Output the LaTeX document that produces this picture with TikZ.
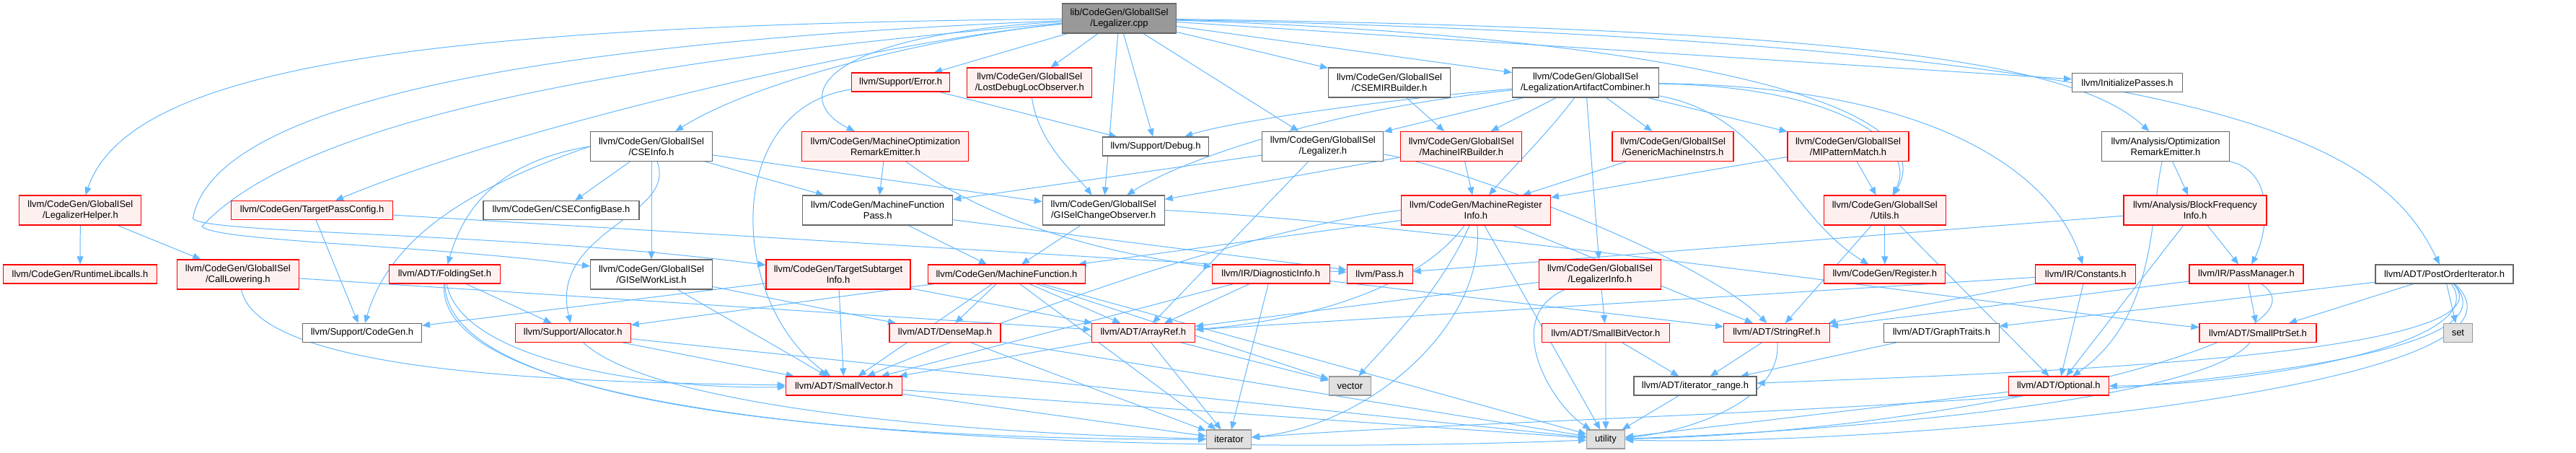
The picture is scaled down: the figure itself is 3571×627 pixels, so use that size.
\documentclass[tikz,border=0pt]{standalone}
\usepackage{fontspec}
\setmainfont{Liberation Sans}
\usetikzlibrary{arrows.meta}
\definecolor{edgec}{HTML}{63B8FF}
\definecolor{redfill}{HTML}{FFF0F0}
\definecolor{gfour}{HTML}{666666}
\definecolor{gsix}{HTML}{999999}
\definecolor{sysfill}{HTML}{E0E0E0}
\pgfdeclarelayer{bg}
\pgfsetlayers{bg,main}
\begin{document}
\begin{tikzpicture}[x=1pt,y=-1pt,
 font=\fontsize{13}{15}\selectfont,
 base/.style={draw, line width=1.1pt, inner sep=0pt, align=center, minimum height=26pt},
 rn/.style={base, draw=red, fill=redfill},
 gn/.style={base, draw=gfour, fill=white},
 sn/.style={base, draw=gsix, fill=sysfill},
 tn/.style={base, draw=gfour, fill=gsix},
 two/.style={minimum height=41pt},
 e/.style={draw=edgec, line width=1pt, -{Triangle[length=11pt,width=9pt]}},
]
\useasboundingbox (0,0) rectangle (3571,627);
% row 0
\node[tn,two,minimum width=158pt] (root) at (1551.5,25.5) {lib/CodeGen/GlobalISel\\/Legalizer.cpp};
% row 1
\node[rn,minimum width=136pt] (error) at (1248.6,114) {llvm/Support/Error.h};
\node[rn,two,minimum width=173pt] (ldlo) at (1427.3,114.5) {llvm/CodeGen/GlobalISel\\/LostDebugLocObserver.h};
\node[gn,two,minimum width=169pt] (csemirb) at (1926,114.5) {llvm/CodeGen/GlobalISel\\/CSEMIRBuilder.h};
\node[gn,two,minimum width=203pt] (lac) at (2198,114.5) {llvm/CodeGen/GlobalISel\\/LegalizationArtifactCombiner.h};
\node[gn,minimum width=153pt] (initp) at (2949,114.5) {llvm/InitializePasses.h};
% row 2
\node[gn,two,minimum width=169pt] (cseinfo) at (903,203) {llvm/CodeGen/GlobalISel\\/CSEInfo.h};
\node[rn,two,minimum width=231pt] (more) at (1227.4,203) {llvm/CodeGen/MachineOptimization\\RemarkEmitter.h};
\node[gn,minimum width=147pt] (debug) at (1602,203) {llvm/Support/Debug.h};
\node[gn,two,minimum width=168pt] (legalizer) at (1833.9,203) {llvm/CodeGen/GlobalISel\\/Legalizer.h};
\node[rn,two,minimum width=168pt] (mirb) at (2025.8,203) {llvm/CodeGen/GlobalISel\\/MachineIRBuilder.h};
\node[rn,two,minimum width=168pt] (gmi) at (2319,203) {llvm/CodeGen/GlobalISel\\/GenericMachineInstrs.h};
\node[rn,two,minimum width=168pt] (mipm) at (2562,203) {llvm/CodeGen/GlobalISel\\/MIPatternMatch.h};
\node[gn,two,minimum width=177pt] (ore) at (3002,203) {llvm/Analysis/Optimization\\RemarkEmitter.h};
% row 3
\node[rn,two,minimum width=169pt] (lhelper) at (111.4,291.5) {llvm/CodeGen/GlobalISel\\/LegalizerHelper.h};
\node[rn,minimum width=224pt] (tpc) at (432.6,291.5) {llvm/CodeGen/TargetPassConfig.h};
\node[gn,minimum width=216pt] (csecfg) at (778,291.5) {llvm/CodeGen/CSEConfigBase.h};
\node[gn,two,minimum width=208pt] (mfp) at (1216.7,291.5) {llvm/CodeGen/MachineFunction\\Pass.h};
\node[gn,two,minimum width=169pt] (gco) at (1529.7,291.5) {llvm/CodeGen/GlobalISel\\/GISelChangeObserver.h};
\node[rn,two,minimum width=207pt] (mri) at (2045.9,291.5) {llvm/CodeGen/MachineRegister\\Info.h};
\node[rn,two,minimum width=169pt] (utils) at (2612.8,291.5) {llvm/CodeGen/GlobalISel\\/Utils.h};
\node[rn,two,minimum width=198pt] (bfi) at (3043,291.5) {llvm/Analysis/BlockFrequency\\Info.h};
% row 4
\node[rn,minimum width=213pt] (rtlib) at (111,380) {llvm/CodeGen/RuntimeLibcalls.h};
\node[rn,two,minimum width=169pt] (calllow) at (329.9,380.5) {llvm/CodeGen/GlobalISel\\/CallLowering.h};
\node[rn,minimum width=154pt] (folding) at (616.5,380) {llvm/ADT/FoldingSet.h};
\node[gn,two,minimum width=169pt] (worklist) at (903,380.5) {llvm/CodeGen/GlobalISel\\/GISelWorkList.h};
\node[rn,two,minimum width=200pt] (tsi) at (1162,380.5) {llvm/CodeGen/TargetSubtarget\\Info.h};
\node[rn,minimum width=218pt] (mf) at (1395.4,380) {llvm/CodeGen/MachineFunction.h};
\node[rn,minimum width=163pt] (diag) at (1761.7,380) {llvm/IR/DiagnosticInfo.h};
\node[rn,minimum width=91pt] (pass) at (1912.7,380) {llvm/Pass.h};
\node[rn,two,minimum width=169pt] (linfo) at (2218,380.5) {llvm/CodeGen/GlobalISel\\/LegalizerInfo.h};
\node[rn,minimum width=168pt] (register) at (2612.8,380) {llvm/CodeGen/Register.h};
\node[rn,minimum width=139pt] (constants) at (2891.3,380) {llvm/IR/Constants.h};
\node[rn,minimum width=158pt] (passmgr) at (3114,380) {llvm/IR/PassManager.h};
\node[gn,minimum width=191pt] (poi) at (3388.5,380) {llvm/ADT/PostOrderIterator.h};
% row 5
\node[gn,minimum width=165pt] (cgen) at (502,461.5) {llvm/Support/CodeGen.h};
\node[rn,minimum width=160pt] (alloc) at (794.2,461.5) {llvm/Support/Allocator.h};
\node[rn,minimum width=154pt] (densemap) at (1310,461.5) {llvm/ADT/DenseMap.h};
\node[rn,minimum width=143.5pt] (arrayref) at (1584.8,461.5) {llvm/ADT/ArrayRef.h};
\node[rn,minimum width=177.6pt] (sbv) at (2225.9,461.5) {llvm/ADT/SmallBitVector.h};
\node[rn,minimum width=147pt] (stringref) at (2463,461.5) {llvm/ADT/StringRef.h};
\node[gn,minimum width=160pt] (graphtraits) at (2691.4,461.5) {llvm/ADT/GraphTraits.h};
\node[rn,minimum width=162pt] (sptrset) at (3130,461.5) {llvm/ADT/SmallPtrSet.h};
\node[sn,minimum width=40pt] (set) at (3407.4,461.5) {set};
% row 6
\node[rn,minimum width=161.5pt] (smallvec) at (1170,535) {llvm/ADT/SmallVector.h};
\node[sn,minimum width=58pt] (vector) at (1871.4,535) {vector};
\node[gn,minimum width=170pt] (itrange) at (2350,535) {llvm/ADT/iterator\_range.h};
\node[rn,minimum width=139pt] (optional) at (2853.8,535) {llvm/ADT/Optional.h};
% row 7
\node[sn,minimum width=62pt] (iterator) at (1703.6,609) {iterator};
\node[sn,minimum width=53pt] (utility) at (2226,609) {utility};
\coordinate (la) at (268,300);
\coordinate (lb) at (280,314);
\begin{pgfonlayer}{bg}
\fill[white] (0,0) rectangle (3571,627);
% root
\draw[e] (root) -- (error);
\draw[e] (root) -- (ldlo);
\draw[e] (root) -- (csemirb);
\draw[e] (root) -- (lac);
\draw[e] (root) -- (initp);
\draw[e] (root) .. controls (600,35) and (180,90) .. (lhelper);
\draw[e] (root) .. controls (1200,60) and (700,180) .. (tpc);
\draw[e] (root) .. controls (1300,50) and (1050,110) .. (cseinfo);
\draw[e] (root) .. controls (1120,50) and (1100,140) .. (more);
\draw[e] (root) -- (debug);
\draw[e] (root) -- (legalizer);
\draw[e] (root) -- (gco);
\draw[e] (root) .. controls (2600,40) and (2880,90) .. (ore);
\draw[e] (root) .. controls (2300,50) and (2700,140) .. (utils);
\draw[e] (root) .. controls (3100,60) and (3300,200) .. (poi);
\draw[e] (root) .. controls (900,80) and (420,160) .. (lb) .. controls (300,335) and (600,340) .. (worklist);
\draw[e] (root) .. controls (700,60) and (300,150) .. (la) .. controls (245,325) and (700,320) .. (tsi);
% error
\draw[e] (error) -- (debug);
\draw[e] (error) .. controls (1000,150) and (1010,420) .. (smallvec);
% ldlo, csemirb
\draw[e] (ldlo) .. controls (1440,200) and (1490,240) .. (gco);
\draw[e] (csemirb) -- (mirb);
% lac
\draw[e] (lac) -- (legalizer);
\draw[e] (lac) -- (mirb);
\draw[e] (lac) .. controls (2150,180) and (2090,240) .. (mri);
\draw[e] (lac) -- (linfo);
\draw[e] (lac) -- (gmi);
\draw[e] (lac) -- (mipm);
\draw[e] (lac) .. controls (2550,120) and (2660,200) .. (utils);
\draw[e] (lac) .. controls (2450,160) and (2480,300) .. (register);
\draw[e] (lac) .. controls (2700,120) and (2850,250) .. (constants);
\draw[e] (lac) .. controls (1900,140) and (1700,170) .. (debug);
\draw[e] (lac) .. controls (1850,150) and (1640,220) .. (gco);
% lhelper, tpc
\draw[e] (lhelper) -- (rtlib);
\draw[e] (lhelper) -- (calllow);
\draw[e] (tpc) -- (cgen);
\draw[e] (tpc) -- (pass);
% cseinfo
\draw[e] (cseinfo) -- (csecfg);
\draw[e] (cseinfo) -- (mfp);
\draw[e] (cseinfo) -- (gco);
\draw[e] (cseinfo.west) .. controls (680,225) and (640,300) .. (folding);
\draw[e] (cseinfo) .. controls (940,300) and (760,320) .. (alloc);
\draw[e] (cseinfo.west) .. controls (650,260) and (540,330) .. (cgen);
\draw[e] (cseinfo) -- (worklist);
% more, legalizer
\draw[e] (more) -- (mfp);
\draw[e] (more) .. controls (1400,330) and (1600,360) .. (diag);
\draw[e] (legalizer) -- (mfp);
\draw[e] (legalizer) -- (arrayref);
\draw[e] (legalizer) .. controls (2000,225) and (2350,350) .. (stringref);
% mirb, gmi, mipm
\draw[e] (mirb) -- (mri);
\draw[e] (mirb) -- (gco);
\draw[e] (gmi) -- (mri);
\draw[e] (mipm) -- (mri);
\draw[e] (mipm) -- (utils);
% ore
\draw[e] (ore) -- (bfi);
\draw[e] (ore) .. controls (3160,240) and (3140,330) .. (passmgr);
\draw[e] (ore) .. controls (2980,300) and (2990,440) .. (optional);
% mfp, gco
\draw[e] (mfp) -- (mf);
\draw[e] (mfp) -- (pass);
\draw[e] (gco) -- (mf);
\draw[e] (gco.east) .. controls (2000,310) and (2900,440) .. (sptrset);
% mri
\draw[e] (mri) -- (mf);
\draw[e] (mri) .. controls (1950,420) and (1750,450) .. (arrayref);
\draw[e] (mri.west) .. controls (1700,320) and (1300,480) .. (smallvec);
\draw[e] (mri) -- (stringref);
\draw[e] (mri) .. controls (2000,400) and (1920,480) .. (vector);
\draw[e] (mri) .. controls (2060,450) and (1900,590) .. (iterator);
\draw[e] (mri) -- (utility);
% utils, bfi
\draw[e] (utils) -- (register);
\draw[e] (utils) -- (stringref);
\draw[e] (utils) -- (optional);
\draw[e] (bfi) -- (passmgr);
\draw[e] (bfi) -- (optional);
\draw[e] (bfi) -- (pass);
% row 4 sources
\draw[e] (calllow) .. controls (360,520) and (800,530) .. (smallvec);
\draw[e] (calllow) -- (arrayref);
\draw[e] (folding) -- (alloc);
\draw[e] (folding) .. controls (640,500) and (900,540) .. (smallvec);
\draw[e] (folding) .. controls (620,580) and (1300,610) .. (iterator);
\draw[e] (folding) .. controls (600,620) and (1700,630) .. (utility);
\draw[e] (worklist) -- (smallvec);
\draw[e] (worklist) -- (densemap);
\draw[e] (tsi) -- (smallvec);
\draw[e] (tsi) -- (cgen);
\draw[e] (tsi) -- (arrayref);
\draw[e] (mf) -- (densemap);
\draw[e] (mf) -- (arrayref);
\draw[e] (mf) -- (iterator);
\draw[e] (mf) -- (smallvec);
\draw[e] (mf) -- (vector);
\draw[e] (mf) -- (utility);
\draw[e] (mf) -- (alloc);
\draw[e] (diag) -- (arrayref);
\draw[e] (diag) -- (iterator);
\draw[e] (diag) -- (stringref);
\draw[e] (diag) -- (smallvec);
\draw[e] (linfo) -- (sbv);
\draw[e] (linfo) .. controls (2080,440) and (2150,560) .. (utility);
\draw[e] (linfo) -- (arrayref);
\draw[e] (constants) -- (optional);
\draw[e] (constants) -- (stringref);
\draw[e] (constants) -- (arrayref);
\draw[e] (passmgr) -- (sptrset);
\draw[e] (passmgr) -- (stringref);
\draw[e] (passmgr) .. controls (3250,470) and (2700,600) .. (utility);
\draw[e] (poi) -- (graphtraits);
\draw[e] (poi) -- (sptrset);
\draw[e] (poi) -- (set);
\draw[e] (poi) .. controls (3460,480) and (3100,535) .. (optional);
\draw[e] (poi) .. controls (3500,500) and (2700,520) .. (itrange);
\draw[e] (poi) .. controls (3560,540) and (2600,620) .. (utility);
\draw[e] (poi) .. controls (3560,560) and (2200,570) .. (iterator);
% row 5 sources
\draw[e] (alloc) -- (smallvec);
\draw[e] (alloc) .. controls (900,560) and (1300,600) .. (iterator);
\draw[e] (alloc) -- (utility);
\draw[e] (densemap) -- (iterator);
\draw[e] (densemap) -- (utility);
\draw[e] (arrayref) -- (smallvec);
\draw[e] (arrayref) -- (iterator);
\draw[e] (arrayref) -- (vector);
\draw[e] (sbv) -- (itrange);
\draw[e] (sbv) -- (utility);
\draw[e] (stringref) -- (itrange);
\draw[e] (stringref) .. controls (2470,560) and (2330,600) .. (utility);
\draw[e] (graphtraits) -- (itrange);
\draw[e] (sptrset) .. controls (3050,560) and (2500,600) .. (utility);
% row 6 sources
\draw[e] (smallvec) -- (iterator);
\draw[e] (smallvec) -- (utility);
\draw[e] (itrange) -- (utility);
\draw[e] (optional) -- (utility);
\end{pgfonlayer}
\end{tikzpicture}
\end{document}
